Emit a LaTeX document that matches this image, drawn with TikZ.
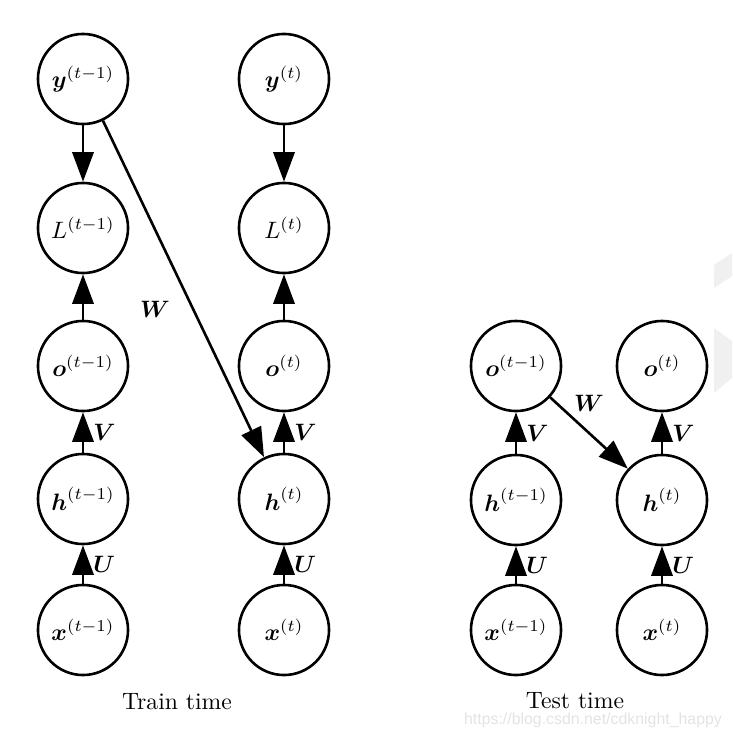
\documentclass[tikz,border=0pt]{standalone}
\usepackage{amsmath}
\usepackage{fontspec}
\newfontfamily\markfont{Liberation Sans}
\usetikzlibrary{arrows.meta}
\begin{document}
\begin{tikzpicture}[x=0.422pt,y=-0.422pt,
    unit/.style={draw,circle,line width=1.1pt,minimum size=38pt,inner sep=0pt},
    link/.style={line width=1.1pt,-{Triangle[length=12.5pt,width=9pt]}},
    wlab/.style={font=\small}]
\useasboundingbox (0,0) rectangle (732,737);
% watermark
\fill[gray!12] (714,265) -- (732,253) -- (732,276) -- (714,288) -- cycle;
\fill[gray!12] (714,328) -- (732,341) -- (732,378) -- (714,393) -- cycle;
\node[text=gray!22,font=\markfont\fontsize{6.7}{8}\selectfont,inner sep=0pt] (mark) at (593,720) {https://blog.csdn.net/cdknight\_happy};
% train time
\foreach \n/\x/\y/\lab in {y1/83/79/{$\boldsymbol{y}^{(t-1)}$}, L1/83/228/{$L^{(t-1)}$}, o1/83/366/{$\boldsymbol{o}^{(t-1)}$}, h1/83/499/{$\boldsymbol{h}^{(t-1)}$}, x1/83/630/{$\boldsymbol{x}^{(t-1)}$},
    y2/284/79/{$\boldsymbol{y}^{(t)}$}, L2/284/228/{$L^{(t)}$}, o2/284/366/{$\boldsymbol{o}^{(t)}$}, h2/284/499/{$\boldsymbol{h}^{(t)}$}, x2/284/630/{$\boldsymbol{x}^{(t)}$}}
    \node[unit] (\n) at (\x,\y) {\lab};
% test time
\foreach \n/\x/\y/\lab in {p1/516/366/{$\boldsymbol{o}^{(t-1)}$}, g1/516/500/{$\boldsymbol{h}^{(t-1)}$}, s1/516/630/{$\boldsymbol{x}^{(t-1)}$},
    p2/662/366/{$\boldsymbol{o}^{(t)}$}, g2/662/500/{$\boldsymbol{h}^{(t)}$}, s2/662/630/{$\boldsymbol{x}^{(t)}$}}
    \node[unit] (\n) at (\x,\y) {\lab};
\foreach \a/\b in {y1/L1, y2/L2, o1/L1, o2/L2}
    \draw[link] (\a) -- (\b);
\foreach \a/\b in {h1/o1, h2/o2, g1/p1, g2/p2}
    \draw[link] (\a) -- node[right=0.5pt] {$\boldsymbol{V}$} (\b);
\foreach \a/\b in {x1/h1, x2/h2, s1/g1, s2/g2}
    \draw[link] (\a) -- node[right=0.5pt] {$\boldsymbol{U}$} (\b);
\draw[link] (y1) -- node[pos=0.56,left=6pt] {$\boldsymbol{W}$} (h2);
\draw[link] (p1) -- node[midway,above=5pt] {$\boldsymbol{W}$} (g2);
\node[inner sep=1pt] (train) at (177,702) {Train time};
\node[inner sep=1pt] (test) at (575,701) {Test time};
\end{tikzpicture}
\end{document}
